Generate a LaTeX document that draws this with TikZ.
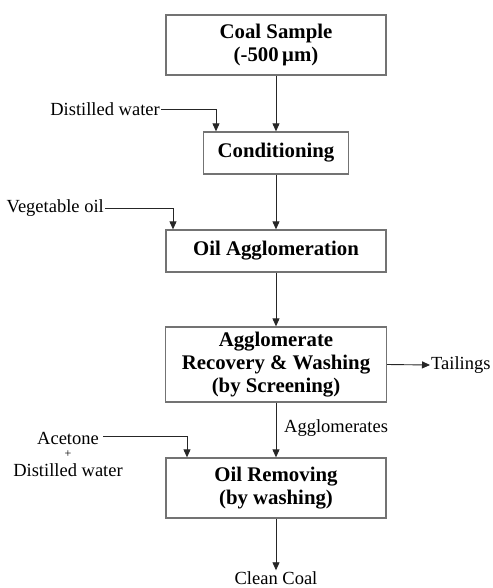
\documentclass[tikz,border=0pt]{standalone}
\usepackage{fontspec}
\setmainfont{Liberation Serif}
\usetikzlibrary{arrows.meta}
\begin{document}
\begin{tikzpicture}[x=1pt,y=-1pt,
  box/.style={draw=black!55,line width=1.3pt,align=center,inner sep=0pt,
    font=\fontsize{20.8}{23}\selectfont\bfseries},
  lbl/.style={inner sep=1pt,align=center,font=\fontsize{18.5}{16.5}\selectfont},
  arr/.style={draw=black!85,line width=0.9pt,-{Triangle[length=8pt,width=7pt]}}]
\useasboundingbox (0,0) rectangle (492,588);
\node[box,minimum width=220pt,minimum height=60pt] (coal) at (276,45) {Coal Sample\\(-500\,μm)};
\node[box,minimum width=145pt,minimum height=42pt] (cond) at (276,153) {Conditioning};
\node[box,minimum width=220pt,minimum height=42pt] (agg) at (276,251) {Oil Agglomeration};
\node[box,minimum width=221pt,minimum height=75pt] (rec) at (276,364.5) {Agglomerate\\Recovery \& Washing\\(by Screening)};
\node[box,minimum width=220pt,minimum height=60pt] (rem) at (276,488) {Oil Removing\\(by washing)};
\node[lbl,anchor=east] (dw) at (161,109) {Distilled water};
\node[lbl,anchor=east] (veg) at (105,208) {Vegetable oil};
\node[lbl,inner sep=0pt] (ace) at (68,438) {Acetone};
\node[lbl,inner sep=0pt,font=\fontsize{12}{12}\selectfont] (plus) at (68,454) {+};
\node[lbl,inner sep=0pt] (dw2) at (68,470) {Distilled water};
\node[lbl,anchor=west] (tail) at (430,365) {Tailings};
\node[lbl,anchor=west] (aggl) at (283,428) {Agglomerates};
\node[lbl] (clean) at (276,578) {Clean Coal};
\draw[arr] (coal) -- (cond);
\draw[arr] (cond) -- (agg);
\draw[arr] (agg) -- (rec);
\draw[arr] (rec) -- (rem);
\draw[arr] (rem) -- (clean);
\draw[arr] (rec.east) -- (tail.west);
\draw[arr] (dw.east) -| ([xshift=-60pt]cond.north);
\draw[arr] (veg.east) -| ([xshift=-103pt]agg.north);
\draw[arr] ([xshift=4pt,yshift=2pt]ace.east) -| ([xshift=-89pt]rem.north);
\end{tikzpicture}
\end{document}
